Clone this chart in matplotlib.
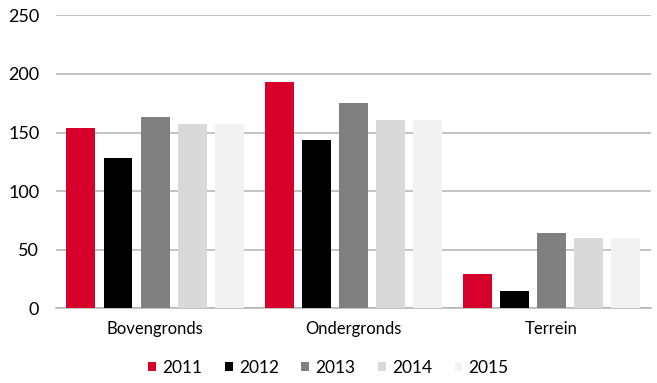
import numpy as np
import matplotlib.pyplot as plt

# dados
categorias = ['Bovengronds', 'Ondergronds', 'Terrein']
anos = ['2011', '2012', '2013', '2014', '2015']
v2011 = [154, 193, 29]
v2012 = [128, 144, 15]
v2013 = [163, 175, 64]
v2014 = [157, 161, 60]
v2015 = [157, 161, 60]
series = [v2011, v2012, v2013, v2014, v2015]
cores = ['#D7002A', '#000000', '#808080', '#D9D9D9', '#F2F2F2']

plt.rcParams['font.family'] = ['Lato', 'DejaVu Sans']

fig = plt.figure(figsize=(6.57, 3.83), dpi=100)
ax = fig.add_axes([0.0852, 0.195, 0.905, 0.765])

x = np.arange(len(categorias))
largura = 0.146
passo = 0.187
for i, vals in enumerate(series):
    ax.bar(x + (i - 2) * passo, vals, largura, color=cores[i], label=anos[i], zorder=3)

ax.set_xlim(-0.5, 2.5)
ax.set_ylim(0, 250)
ax.set_yticks(np.arange(0, 251, 50))
ax.yaxis.grid(True, color='#B3B3B3', linewidth=1.1, zorder=0)
ax.set_xticks(x)
ax.set_xticklabels(categorias, fontsize=12)
ax.tick_params(axis='both', length=0)
ax.tick_params(axis='y', labelsize=13, pad=12, colors='#000000')
ax.tick_params(axis='x', pad=9)
for s in ['top', 'right', 'left']:
    ax.spines[s].set_visible(False)
ax.spines['bottom'].set_color('#B3B3B3')
ax.spines['bottom'].set_linewidth(1.1)

leg = fig.legend(loc='center', bbox_to_anchor=(0.5, 0.04), ncol=5, frameon=False,
                 fontsize=12.5, handlelength=0.45, handleheight=0.45, handletextpad=0.35,
                 columnspacing=1.3)

fig.savefig('out.png', dpi=100)
